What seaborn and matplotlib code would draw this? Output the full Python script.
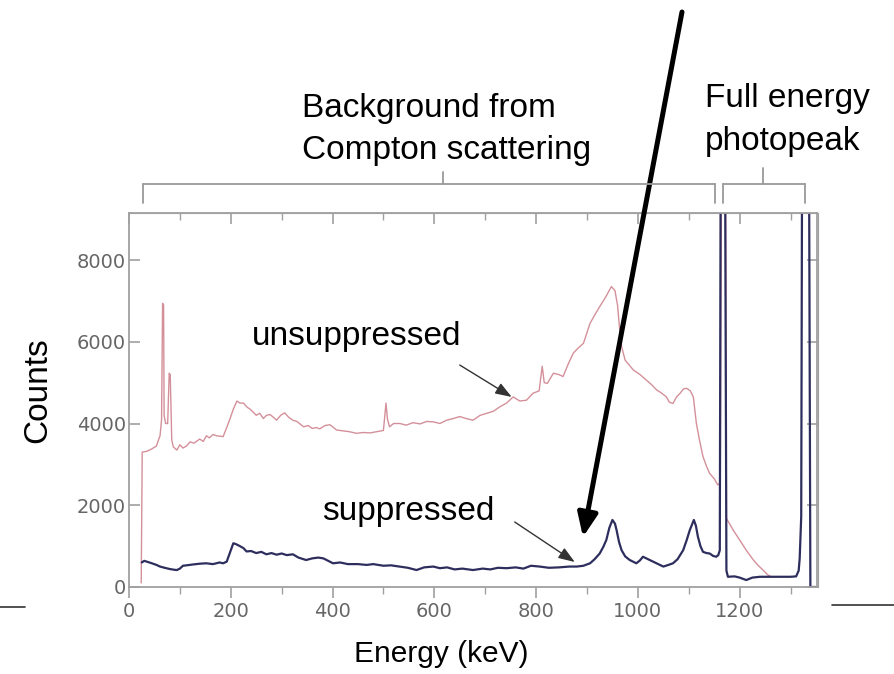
import numpy as np
import pandas as pd
import matplotlib
matplotlib.use("Agg")
import matplotlib.pyplot as plt
from matplotlib.lines import Line2D
from matplotlib.patches import FancyArrowPatch
from matplotlib.ticker import MultipleLocator
import seaborn as sns

# ---- spectrum data (energy in keV, counts) ----
unsup_energy = [24, 26, 35, 45, 54, 58, 61, 64, 66, 68, 69, 72, 76, 79, 81, 84, 87, 94, 100, 106,
                113, 120, 128, 139, 146, 152, 158, 165, 172, 185, 192, 198, 205, 212, 218, 225,
                232, 238, 244, 250, 257, 264, 270, 277, 284, 290, 298, 306, 314, 322, 330, 343,
                352, 360, 368, 375, 385, 395, 402, 408, 420, 433, 447, 460, 474, 487, 500, 505,
                508, 512, 520, 532, 545, 558, 572, 585, 598, 611, 624, 637, 650, 663, 676, 690,
                703, 716, 729, 742, 755, 768, 781, 794, 806, 812, 816, 822, 834, 844, 853, 863,
                873, 883, 893, 906, 915, 925, 937, 948, 955, 960, 965, 968, 975, 991, 1004, 1017,
                1027, 1037, 1046, 1056, 1062, 1069, 1076, 1083, 1090, 1096, 1103, 1109, 1115,
                1121, 1128, 1135, 1141, 1150, 1157, 1162, 1165, 1172, 1174, 1187, 1200, 1213,
                1227, 1237, 1246, 1255, 1262]
unsup_counts = [100, 3300, 3320, 3380, 3450, 3600, 3700, 4100, 6940, 6900, 4200, 4000, 4000, 5230,
                5200, 3600, 3430, 3350, 3480, 3400, 3450, 3550, 3520, 3620, 3560, 3700, 3650,
                3730, 3700, 3680, 3900, 4100, 4350, 4550, 4500, 4500, 4400, 4350, 4280, 4200,
                4250, 4120, 4200, 4220, 4150, 4080, 4200, 4260, 4150, 4080, 4050, 3920, 3950,
                3880, 3900, 3870, 3950, 3970, 3900, 3840, 3820, 3800, 3760, 3780, 3770, 3800,
                3830, 4500, 4100, 3920, 4000, 4000, 3960, 4020, 3990, 4050, 4040, 4000, 4080,
                4120, 4170, 4120, 4080, 4200, 4250, 4300, 4410, 4500, 4650, 4550, 4570, 4740,
                4800, 5400, 5000, 4980, 5230, 5200, 5150, 5450, 5720, 5850, 5960, 6450, 6650,
                6860, 7100, 7350, 7250, 6900, 6200, 5880, 5550, 5310, 5200, 5060, 4950, 4820,
                4750, 4650, 4520, 4490, 4650, 4740, 4850, 4860, 4800, 4650, 4000, 3600, 3190,
                2950, 2780, 2650, 2500, 2540, 12000, 12000, 1680, 1400, 1150, 900, 660, 520,
                415, 300, 250]

sup_energy = [25, 30, 35, 45, 54, 61, 70, 80, 90, 94, 100, 106, 113, 125, 139, 152, 165, 178, 185,
              192, 200, 205, 210, 218, 225, 231, 240, 250, 260, 270, 280, 290, 300, 310, 322,
              333, 348, 360, 372, 382, 390, 401, 415, 430, 450, 467, 480, 500, 515, 532, 548,
              565, 580, 598, 611, 625, 640, 655, 676, 695, 710, 725, 742, 760, 775, 790, 807,
              825, 845, 865, 880, 893, 906, 915, 925, 932, 938, 944, 950, 955, 958, 963, 968,
              975, 984, 997, 1004, 1010, 1020, 1030, 1040, 1050, 1060, 1069, 1078, 1089, 1096,
              1102, 1110, 1114, 1118, 1123, 1128, 1135, 1141, 1148, 1154, 1158, 1161, 1163,
              1171, 1174, 1177, 1190, 1200, 1213, 1225, 1240, 1260, 1280, 1300, 1311, 1316,
              1318, 1321, 1323, 1336, 1339, 1353]
sup_counts = [600, 640, 620, 580, 540, 500, 470, 440, 420, 415, 450, 520, 530, 550, 570, 580, 560,
              600, 580, 620, 900, 1070, 1050, 1000, 950, 870, 880, 830, 860, 800, 830, 790, 820,
              780, 800, 720, 660, 700, 720, 700, 650, 580, 600, 560, 560, 540, 560, 520, 530,
              500, 470, 415, 480, 500, 460, 480, 430, 450, 415, 450, 430, 470, 460, 480, 450,
              520, 500, 470, 480, 500, 500, 520, 580, 680, 820, 980, 1150, 1450, 1640, 1550,
              1400, 1100, 900, 750, 660, 580, 650, 740, 680, 620, 560, 500, 540, 580, 680, 900,
              1150, 1390, 1640, 1500, 1230, 1000, 860, 830, 820, 760, 740, 780, 900, 12000,
              12000, 400, 250, 260, 230, 170, 230, 250, 250, 250, 250, 260, 400, 700, 1720,
              12000, 12000, 0, 0]

x_major = [0, 200, 400, 600, 800, 1000, 1200]
y_major = [0, 2000, 4000, 6000, 8000]

unsup = pd.DataFrame({"Energy": unsup_energy, "Counts": unsup_counts})
sup = pd.DataFrame({"Energy": sup_energy, "Counts": sup_counts})

sns.set_style("ticks")
plt.rcParams["font.family"] = ["Liberation Sans", "DejaVu Sans"]
plt.rcParams["text.color"] = "black"
plt.rcParams["axes.labelcolor"] = "black"

W, H = 895, 674
fig = plt.figure(figsize=(W / 100, H / 100), dpi=100)


def fx(px):
    return px / W


def fy(py):
    return 1 - py / H


ax = fig.add_axes([fx(129), fy(587), (817.5 - 129) / W, (587 - 213) / H])

pink = "#d4909a"
navy = "#2e2e5e"
frame = "#a0a0a0"
tick_txt = "#666666"

sns.lineplot(data=unsup, x="Energy", y="Counts", ax=ax, color=pink, lw=1.0,
             sort=False, estimator=None)
sns.lineplot(data=sup, x="Energy", y="Counts", ax=ax, color=navy, lw=1.6,
             sort=False, estimator=None)

ax.set_xlim(0, 1353)
ax.set_ylim(0, 9150)

for s in ax.spines.values():
    s.set_color(frame)
    s.set_linewidth(1.3)
    s.set_visible(True)

ax.set_xticks(x_major)
ax.xaxis.set_minor_locator(MultipleLocator(100))
ax.set_yticks(y_major)
ax.tick_params(axis="x", which="major", direction="out", length=8, width=1.2,
               color=frame, labelcolor=tick_txt, labelsize=14, pad=3)
ax.tick_params(axis="x", which="minor", direction="out", length=5, width=1.0, color=frame)
ax.tick_params(axis="y", which="major", direction="in", length=8, width=1.2,
               color=frame, labelcolor=tick_txt, labelsize=14, pad=2)
for lab in ax.get_xticklabels() + ax.get_yticklabels():
    lab.set_fontfamily("DejaVu Sans")

secx = ax.secondary_xaxis("top")
secx.set_xticks(x_major)
secx.xaxis.set_minor_locator(MultipleLocator(100))
secx.tick_params(axis="x", which="major", direction="in", length=8, width=1.2,
                 color=frame, labeltop=False)
secx.tick_params(axis="x", which="minor", direction="in", length=5, width=1.0, color=frame)
secx.spines["top"].set_color(frame)

secy = ax.secondary_yaxis("right")
secy.set_yticks(y_major)
secy.tick_params(axis="y", direction="in", length=8, width=1.2, color=frame,
                 labelright=False)
secy.spines["right"].set_color(frame)

ax.set_xlabel("Energy (keV)", fontsize=21.5, color="black", va="center")
ax.set_ylabel("Counts", fontsize=24, color="black", va="center")
ax.xaxis.set_label_coords((441 - 129) / 688.5, (587 - 654) / 374)
ax.yaxis.set_label_coords((38 - 129) / 688.5, (587 - 390) / 374)

# curve labels with pointer arrows
box = dict(facecolor="white", edgecolor="none", boxstyle="square,pad=0.25")
fig.text(fx(252), fy(345), "unsuppressed", fontsize=24, ha="left", va="baseline",
         color="black", bbox=box)
fig.text(fx(322), fy(520), "suppressed", fontsize=24, ha="left", va="baseline",
         color="black", bbox=box)

small_arrow = dict(arrowstyle="-|>,head_length=0.55,head_width=0.2", mutation_scale=18,
                   lw=1.0, color="#333333", shrinkA=0, shrinkB=0)
ax.annotate("", xy=(752, 4650), xytext=(650, 5430), arrowprops=small_arrow, zorder=5)
ax.annotate("", xy=(876, 611), xytext=(758, 1590), arrowprops=small_arrow, zorder=5)

# region brackets above the spectrum
bracket_c = "#9a9a9a"


def bracket(x0, x1, xc, y, y_end, y_tip):
    for xs, ys in [((x0, x1), (y, y)), ((x0, x0), (y, y_end)), ((x1, x1), (y, y_end)),
                   ((xc, xc), (y, y_tip))]:
        fig.add_artist(Line2D([fx(v) for v in xs], [fy(v) for v in ys],
                              color=bracket_c, lw=1.3))


bracket(143, 715, 443, 184, 203, 172)
bracket(723, 805, 763, 184, 203, 168)

for txt, px, py in [("Background from", 302, 117), ("Compton scattering", 302, 159),
                    ("Full energy", 705, 107), ("photopeak", 705, 150)]:
    fig.text(fx(px), fy(py), txt, fontsize=24, ha="left", va="baseline", color="black")

# long pointer
fig.add_artist(FancyArrowPatch((fx(682), fy(12)), (fx(583), fy(537)),
                               transform=fig.transFigure,
                               arrowstyle="-|>,head_length=0.7,head_width=0.3",
                               mutation_scale=20, lw=3.6, color="black",
                               shrinkA=0, shrinkB=0))

# short rules at the slide edges
fig.add_artist(Line2D([fx(0), fx(25)], [fy(607), fy(607)], color="#333333", lw=1.2))
fig.add_artist(Line2D([fx(832), fx(895)], [fy(605), fy(605)], color="#333333", lw=1.2))

fig.savefig("out.png", dpi=100)
